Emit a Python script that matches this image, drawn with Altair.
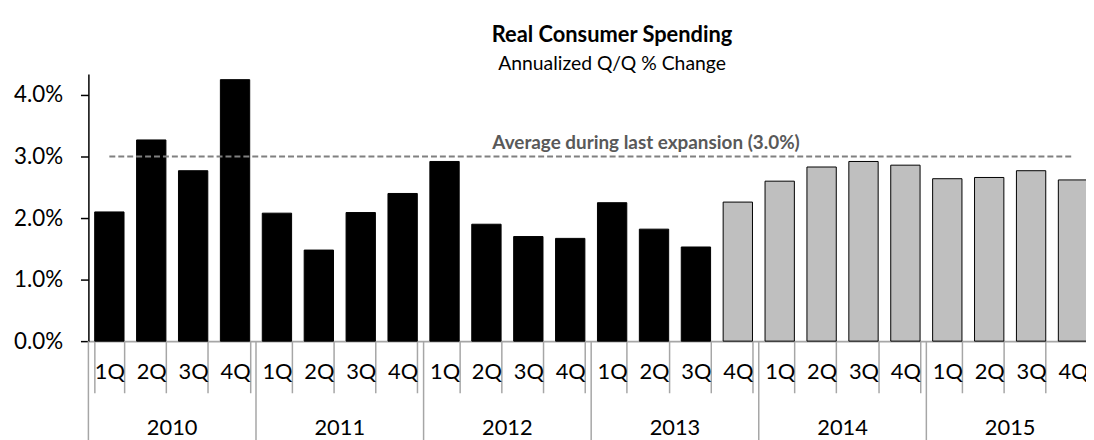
import altair as alt
import pandas as pd

# ---- data ----
years = ["2010", "2011", "2012", "2013", "2014", "2015"]
quarters = ["1Q", "2Q", "3Q", "4Q"]
values = [2.10, 3.27, 2.77, 4.25,
          2.08, 1.48, 2.09, 2.40,
          2.92, 1.90, 1.70, 1.67,
          2.25, 1.82, 1.53, 2.26,
          2.60, 2.83, 2.92, 2.86,
          2.64, 2.66, 2.77, 2.62]
n_actual = 15
avg_value = 3.0
avg_label = "Average during last expansion (3.0%)"
avg_label_at = "2013 2Q"
y_ticks = [0, 1, 2, 3, 4]
title_text = "Real Consumer Spending"
subtitle_text = "Annualized Q/Q % Change"

# ---- layout constants ----
FONT = "Lato"
PLOT_W = 1005          # visible plot width
RANGE_W = 1013         # full band range (last bar is cut at the window edge)
PLOT_H = 269
PAD_INNER = 0.3
PAD_OUTER = PAD_INNER / 2
N = len(years) * len(quarters)
STEP = RANGE_W / (N - PAD_INNER + 2 * PAD_OUTER)
BOUNDARY_SHIFT = -STEP * PAD_INNER / 2   # from band start to slot boundary

keys = [f"{y} {q}" for y in years for q in quarters]
df = pd.DataFrame({
    "key": keys,
    "value": values,
    "kind": ["Actual"] * n_actual + ["Forecast"] * (N - n_actual),
    "avg": [avg_value] * N,
})
years_df = pd.DataFrame({
    "year": years,
    "start": [f"{y} 1Q" for y in years],
    "mid": [f"{y} 3Q" for y in years],
})
label_df = pd.DataFrame({"key": [avg_label_at], "avg": [avg_value], "text": [avg_label]})

xscale = alt.Scale(domain=keys, range=[0, RANGE_W],
                   paddingInner=PAD_INNER, paddingOuter=PAD_OUTER)
yscale = alt.Scale(domain=[0, 4.34], nice=False)

x_axis = alt.Axis(
    title=None, labelExpr="split(datum.value, ' ')[1]", labelAngle=0,
    tickBand="extent", tickSize=52, tickColor="#A6A6A6", tickWidth=1.5,
    domainColor="#A6A6A6", domainWidth=2, labelPadding=-31,
    labelFontSize=22, labelFont=FONT, labelColor="black", labelOverlap=False,
)
y_axis = alt.Axis(
    title=None, values=y_ticks, labelExpr="format(datum.value, '.1f') + '%'",
    domainColor="black", domainWidth=1.5, tickColor="black", tickWidth=1.5,
    tickSize=8, labelFontSize=22.5, labelFont=FONT, labelColor="black",
    labelPadding=18, grid=False,
)

base = alt.Chart(df)

bars = base.mark_bar(stroke="black", strokeWidth=1).encode(
    x=alt.X("key:N", scale=xscale, axis=x_axis, sort=keys),
    y=alt.Y("value:Q", scale=yscale, axis=y_axis),
    color=alt.Color("kind:N", scale=alt.Scale(domain=["Actual", "Forecast"],
                                              range=["#000000", "#BFBFBF"]),
                    legend=None),
)

avg_line = base.mark_line(color="#808080", strokeWidth=2, strokeDash=[6, 3]).encode(
    x=alt.X("key:N", scale=xscale, sort=keys),
    y=alt.Y("avg:Q", scale=yscale),
)

avg_text = alt.Chart(label_df).mark_text(
    font=FONT, fontSize=19, fontWeight="bold", color="#595959",
    dy=-14, dx=-8, align="center",
).encode(
    x=alt.X("key:N", scale=xscale, sort=keys),
    y=alt.Y("avg:Q", scale=yscale),
    text="text:N",
)

year_rules = alt.Chart(years_df).mark_rule(
    color="#A6A6A6", strokeWidth=1.5, xOffset=BOUNDARY_SHIFT,
).encode(
    x=alt.X("start:N", scale=xscale, sort=keys, bandPosition=0),
    y=alt.value(PLOT_H),
    y2=alt.value(PLOT_H + 110),
)

year_text = alt.Chart(years_df).mark_text(
    font=FONT, fontSize=22, color="black", baseline="middle",
    xOffset=BOUNDARY_SHIFT,
).encode(
    x=alt.X("mid:N", scale=xscale, sort=keys, bandPosition=0),
    y=alt.value(PLOT_H + 88),
    text="year:N",
)

chart = alt.layer(bars, avg_line, avg_text, year_rules, year_text).properties(
    width=PLOT_W,
    height=PLOT_H,
    autosize=alt.AutoSizeParams(type="none"),
    padding={"left": 81, "top": 65, "right": 0, "bottom": 98},
    title=alt.TitleParams(
        text=title_text, subtitle=subtitle_text, anchor="middle", dx=25,
        font=FONT, fontSize=22, fontWeight="bold", color="black",
        subtitleFont=FONT, subtitleFontSize=19.5, subtitleColor="black",
        subtitlePadding=8, offset=0,
    ),
).configure_view(stroke=None)

chart.save("out.html", embed_options={"renderer": "svg", "actions": False})
